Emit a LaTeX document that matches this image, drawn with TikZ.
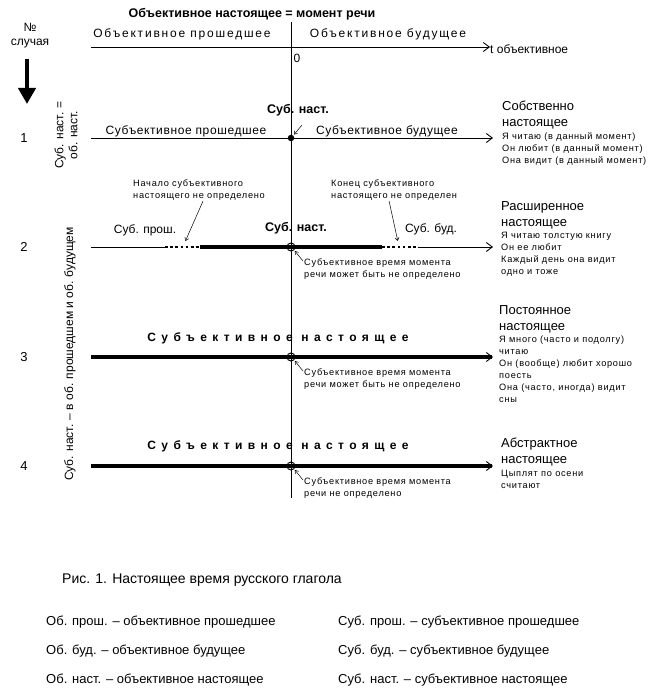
\documentclass[tikz,border=0pt]{standalone}
\usepackage{fontspec}
\setmainfont{Liberation Sans}
\newfontfamily\spacedfont[LetterSpace=15]{Liberation Sans}
\newfontfamily\rowfont[LetterSpace=5]{Liberation Sans}
\newfontfamily\widefont[LetterSpace=45]{Liberation Sans}
\newfontfamily\smallfont[LetterSpace=8]{Liberation Sans}
\usetikzlibrary{arrows.meta, positioning}

\begin{document}
\begin{tikzpicture}[
		x=1pt, y=-1pt,
		thinline/.style		={ line width=0.8pt },
		thickline/.style	={ line width=3.5pt },
		dots/.style			={ line width=2.4pt, dash pattern=on 2.6pt off 2.6pt },
		axisarrow/.style	={ -{Straight Barb[length={6pt 0}, width={9pt 0}, line width=0.9pt]} },
		pointer/.style		={ line width=0.5pt,
			-{Straight Barb[length={3pt 0}, width={4pt 0}, line width=0.5pt]}, shorten >=1pt
		},
		lbl/.style			={ inner sep=0pt, font=\fontsize{12}{14}\selectfont },
		boldlbl/.style		={ inner sep=0pt, font=\bfseries\fontsize{12.5}{14}\selectfont },
		spaced/.style		={ inner sep=0pt, font=\spacedfont\fontsize{12}{14}\selectfont },
		rowlbl/.style		={ inner sep=0pt, font=\rowfont\fontsize{12}{14}\selectfont },
		widebold/.style		={ inner sep=0pt, font=\widefont\bfseries\fontsize{12}{14}\selectfont },
		small/.style		={ inner sep=0pt, anchor=north west, align=left,
			font=\smallfont\fontsize{9.2}{12}\selectfont
		},
		kind/.style			={ inner sep=0pt, anchor=north west, align=left,
			font=\fontsize{13}{16}\selectfont
		},
		speechmark/.style	={ circle, draw, line width=1pt, inner sep=0pt, minimum size=8pt },
		legend/.style		={ inner sep=0pt, anchor=west, font=\fontsize{13}{15}\selectfont },
	]
	\useasboundingbox (0,0) rectangle (663,692);

	% objective time axis and moment of speech
	\node (title) [boldlbl] at (252,14) {Объективное настоящее = момент речи};
	\coordinate (otop) at (291,22);
	\coordinate (obot) at (291,498);
	\draw [thinline] (otop) -- (obot);
	\coordinate (tstart) at (91,47);
	\node (tlab) [lbl, anchor=west] at (490,49) {t объективное};
	\draw [thinline, axisarrow] (tstart) -- (tstart -| tlab.west);
	\node (opast) [spaced] at (182,34) {Объективное прошедшее};
	\node (ofut) [spaced] at (388,34) {Объективное будущее};
	\node (zero) [lbl] at (297,58) {0};

	% case column
	\node (case) [lbl, align=center] at (30,36) {№\\случая};
	\coordinate (casetip) at (27,104);
	\draw [line width=4pt, -{Triangle[length={16pt 0}, width={17pt 0}]}]
			(casetip |- case.south) ++(0,10) -- (casetip);
	\node (eqtext) [lbl, rotate=90, align=center] at (66,135) {Суб. наст. =\\об. наст.};
	\node (intext) [lbl, rotate=90] at (70,354) {Суб. наст. – в об. прошедшем и об. будущем};

	% declare rows
	\foreach \n/\y in {1/138, 2/247, 3/357, 4/466} {
			\coordinate (s\n) at (91,\y);
			\coordinate (c\n) at (291,\y);
			\coordinate (e\n) at (493,\y);
			\node (num\n) [lbl, font=\fontsize{13}{15}\selectfont] at (24,\y) {\n};
		}

	% row 1
	\draw [thinline, axisarrow] (s1) -- (e1);
	\node (dot1) [circle, fill, inner sep=0pt, minimum size=6.5pt] at (c1) {};
	\node (sn1) [boldlbl] at (298,110) {Суб. наст.};
	\draw [pointer] ([xshift=4pt, yshift=-9pt]sn1.south) -- (dot1);
	\node (past1) [rowlbl] at (186,131) {Субъективное прошедшее};
	\node (fut1) [rowlbl] at (387,131) {Субъективное будущее};

	% row 2
	\coordinate (p2a) at (165,247);
	\coordinate (p2b) at (200,247);
	\coordinate (p2c) at (382,247);
	\coordinate (p2d) at (418,247);
	\draw [thinline] (s2) -- (p2a);
	\draw [dots] (p2a) -- (p2b);
	\draw [thickline] (p2b) -- (p2c);
	\draw [dots] (p2c) -- (p2d);
	\draw [thinline, axisarrow] (p2d) -- (e2);
	\node (sn2) [boldlbl] at (296,228) {Суб. наст.};
	\node (past2) [lbl] at (145,230) {Суб. прош.};
	\node (fut2) [lbl] at (431,229) {Суб. буд.};
	\node (beg2) [small] at (133,180) {Начало субъективного\\настоящего не определено};
	\node (end2) [small] at (331,180) {Конец субъективного\\настоящего не определен};
	\coordinate (begtip) at (185,242);
	\coordinate (endtip) at (398,242);
	\draw [pointer] ([xshift=4pt]beg2.south) -- (begtip);
	\draw [pointer] ([xshift=-5pt]end2.south) -- (endtip);

	% rows 3 and 4
	\draw [line width=3.5pt, axisarrow] (s3) -- (e3);
	\draw [line width=4.5pt, axisarrow] (s4) -- (e4);
	\node (sub3) [widebold] at (278,338) {Субъективное настоящее};
	\node (sub4) [widebold] at (278,446) {Субъективное настоящее};

	% moment of speech marks with notes
	\foreach \n/\rest in {2/может быть не, 3/может быть не, 4/не} {
			\node (o\n) [speechmark] at (c\n) {};
			\node (note\n) [small, xshift=13pt, yshift=-12pt] at (c\n)
					{Субъективное время момента\\речи \rest{} определено};
			\draw [pointer] ([xshift=-1pt, yshift=-2pt]note\n.north west) -- (o\n.south east);
		}

	% kinds of present
	\node (kind1) [kind] at (502,101) {Собственно\\настоящее};
	\node (ex1) [small, below=3pt of kind1.south west, anchor=north west]
			{Я читаю (в данный момент)\\Он любит (в данный момент)\\Она видит (в данный момент)};
	\node (kind2) [kind] at (501,201) {Расширенное\\настоящее};
	\node (ex2) [small, below=3pt of kind2.south west, anchor=north west]
			{Я читаю толстую книгу\\Он ее любит\\Каждый день она видит\\одно и тоже};
	\node (kind3) [kind] at (499,305) {Постоянное\\настоящее};
	\node (ex3) [small, below=3pt of kind3.south west, anchor=north west]
			{Я много (часто и подолгу)\\читаю\\Он (вообще) любит хорошо\\поесть\\Она (часто, иногда) видит\\сны};
	\node (kind4) [kind] at (501,438) {Абстрактное\\настоящее};
	\node (ex4) [small, below=3pt of kind4.south west, anchor=north west]
			{Цыплят по осени\\считают};

	% caption and legend
	\node (caption) [legend, font=\fontsize{14}{16}\selectfont] at (62,580) {Рис. 1. Настоящее время русского глагола};
	\foreach \i/\abbr/\word/\y in {1/прош./прошедшее/622, 2/буд./будущее/651, 3/наст./настоящее/680} {
			\node (obj\i) [legend] at (46,\y) {Об. \abbr{} – объективное \word};
			\node (subj\i) [legend] at (338,\y) {Суб. \abbr{} – субъективное \word};
		}

\end{tikzpicture}
\end{document}
